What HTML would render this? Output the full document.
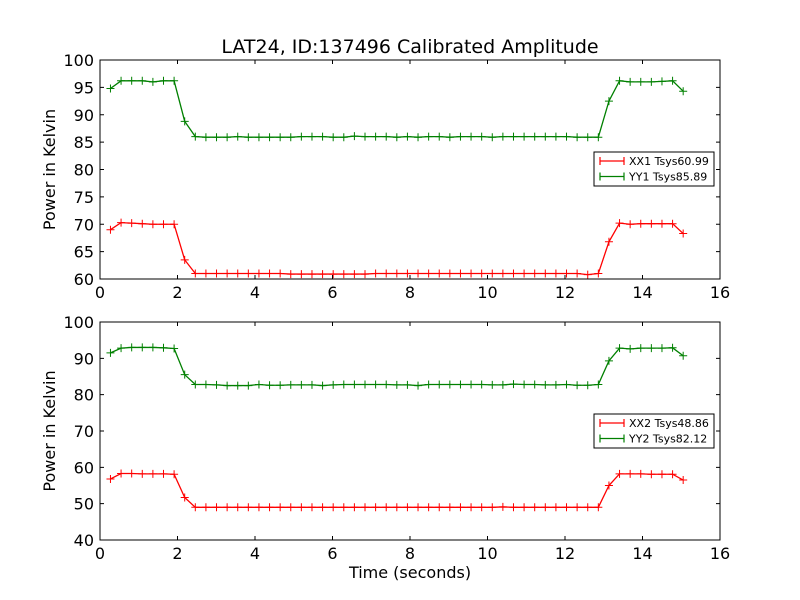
<!DOCTYPE html>
<html><head><meta charset="utf-8"><style>body{margin:0;background:#fff}svg{display:block;font-family:"DejaVu Sans","Liberation Sans",sans-serif}</style></head>
<body>
<svg id="chart" width="800" height="600"></svg>
<script>
const xStart = 0.27, xStep = 0.2737;
const xx1 = [69.0,70.3,70.2,70.1,70.0,70.0,70.0,63.5,61.0,61.0,61.0,61.0,61.0,61.0,61.0,61.0,61.0,60.9,60.9,60.9,60.9,60.9,60.9,60.9,60.9,61.0,61.0,61.0,61.0,61.0,61.0,61.0,61.0,61.0,61.0,61.0,61.0,61.0,61.0,61.0,61.0,61.0,61.0,61.0,61.0,60.8,61.0,66.8,70.2,70.0,70.1,70.1,70.1,70.1,68.3];
const yy1 = [94.8,96.2,96.2,96.2,96.0,96.2,96.2,88.8,86.0,85.9,85.9,85.9,86.0,85.9,85.9,85.9,85.9,85.9,86.0,86.0,86.0,85.9,85.9,86.1,86.0,86.0,86.0,85.9,86.0,85.9,86.0,86.0,85.9,86.0,86.0,86.0,85.9,86.0,86.0,86.0,86.0,86.0,86.0,86.0,85.9,85.9,85.9,92.5,96.2,96.0,96.0,96.0,96.1,96.2,94.3];
const xx2 = [56.8,58.3,58.3,58.2,58.2,58.2,58.1,51.7,49.0,49.0,49.0,49.0,49.0,49.0,49.0,49.0,49.0,49.0,49.0,49.0,49.0,49.0,49.0,49.0,49.0,49.0,49.0,49.0,49.0,49.0,49.0,49.0,49.0,49.0,49.0,49.0,49.0,49.1,49.0,49.0,49.0,49.0,49.0,49.0,49.0,49.0,49.0,55.0,58.2,58.2,58.2,58.1,58.1,58.1,56.5];
const yy2 = [91.5,92.8,93.0,93.0,93.0,92.9,92.7,85.5,82.8,82.8,82.7,82.5,82.5,82.5,82.8,82.6,82.6,82.7,82.7,82.7,82.5,82.7,82.8,82.8,82.8,82.8,82.8,82.7,82.7,82.5,82.8,82.8,82.8,82.8,82.8,82.8,82.7,82.7,82.9,82.8,82.8,82.7,82.7,82.8,82.6,82.6,82.8,89.3,92.8,92.6,92.8,92.8,92.8,92.9,90.7];
const xTicks = [0,2,4,6,8,10,12,14,16];
const yTicksTop = [60,65,70,75,80,85,90,95,100];
const yTicksBot = [40,50,60,70,80,90,100];

const NS="http://www.w3.org/2000/svg", svg=document.getElementById('chart');
function mk(t,a,p){const e=document.createElementNS(NS,t);for(const k in a)e.setAttribute(k,a[k]);(p||svg).appendChild(e);return e;}
const X0=100,X1=720;
const sx=v=>X0+(v-0)/(16-0)*(X1-X0);

function panel(top,bot,ymin,ymax,yTicks,series,names,legY,pname){
  const g=mk('g',{});
  
  
  const sy=v=>bot-(v-ymin)/(ymax-ymin)*(bot-top);
  const cols=['#ff0000','#008000'];
  series.forEach((s,si)=>{
    const pts=s.map((v,i)=>sx(xStart+i*xStep)+','+sy(v)).join(' ');
    const pl=mk('polyline',{points:pts,fill:'none',stroke:cols[si],'stroke-width':1.3},g);
    
    
    s.forEach((v,i)=>{const x=sx(xStart+i*xStep),y=sy(v);
      const m=mk('path',{d:`M${x-4},${y}H${x+4}M${x},${y-4}V${y+4}`,stroke:cols[si],'stroke-width':1},g);
      
      });
  });
  mk('rect',{x:X0,y:top,width:X1-X0,height:bot-top,fill:'none',stroke:'#000','stroke-width':1},g);
  xTicks.forEach(t=>{const x=sx(t);
    mk('path',{d:`M${x},${bot}v-4M${x},${top}v4`,stroke:'#000'},g);
    const tx=mk('text',{x:x,y:bot+19,'text-anchor':'middle','font-size':16},g);tx.textContent=t;
    
    });
  yTicks.forEach(t=>{const y=sy(t);
    mk('path',{d:`M${X0},${y}h4M${X1},${y}h-4`,stroke:'#000'},g);
    const tx=mk('text',{x:X0-6,y:y+6,'text-anchor':'end','font-size':16},g);tx.textContent=t;
    
    });
  const yl=mk('text',{transform:`translate(55,${(top+bot)/2}) rotate(-90)`,'text-anchor':'middle','font-size':16},g);
  yl.textContent='Power in Kelvin';
  
  
  const lg=mk('g',{},g);
  
  
  mk('rect',{x:594,y:legY,width:120,height:34,fill:'#fff',stroke:'#000'},lg);
  names.forEach((n,i)=>{const y=legY+9+i*15.5;
    mk('path',{d:`M600,${y}h24M600,${y-4}v8M624,${y-4}v8`,stroke:cols[i],'stroke-width':1.2},lg);
    const t=mk('text',{x:629,y:y+4,'font-size':11},lg);t.textContent=n;
    
    });
}
panel(60,279,60,100,yTicksTop,[xx1,yy1],['XX1 Tsys60.99','YY1 Tsys85.89'],152,'top-panel');
panel(322,540,40,100,yTicksBot,[xx2,yy2],['XX2 Tsys48.86','YY2 Tsys82.12'],414,'bottom-panel');
const ti=mk('text',{x:410,y:53,'text-anchor':'middle','font-size':19});ti.textContent='LAT24, ID:137496 Calibrated Amplitude';


const xl=mk('text',{x:410,y:578,'text-anchor':'middle','font-size':16});xl.textContent='Time (seconds)';


</script>
</body></html>
